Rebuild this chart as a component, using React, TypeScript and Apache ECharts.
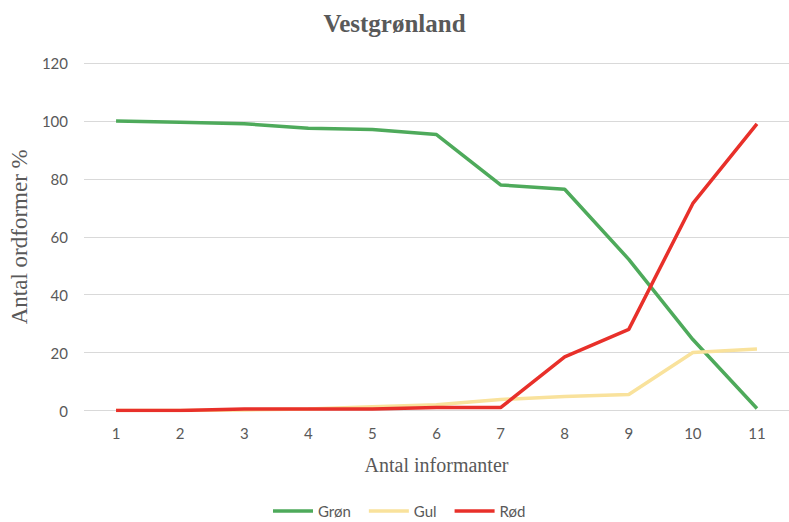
import React, { useEffect, useRef } from "react";
import * as echarts from "echarts";

const categories = ["1", "2", "3", "4", "5", "6", "7", "8", "9", "10", "11"];
const gronValues = [100, 99.5, 99, 97.5, 97, 95.3, 77.9, 76.4, 52.2, 24.5, 0.7];
const gulValues = [0, 0, 0.2, 0.5, 1.3, 2, 3.8, 4.8, 5.5, 20, 21.2];
const rodValues = [0, 0, 0.5, 0.5, 0.5, 1, 1, 18.5, 28, 71.5, 99];

const TEXT = "#595959";

export default function App() {
  const ref = useRef<HTMLDivElement>(null);
  useEffect(() => {
    if (!ref.current) return;
    const chart = echarts.init(ref.current, undefined, { renderer: "svg" });
    const mk = (name: string, data: number[], color: string) => ({
      name,
      type: "line",
      data,
      symbol: "none",
      lineStyle: { color, width: 3.5 },
      itemStyle: { color },
    });
    chart.setOption({
      animation: false,
      backgroundColor: "#ffffff",
      title: {
        text: "Vestgrønland",
        left: "center",
        top: 6,
        textStyle: {
          fontFamily: "Liberation Serif",
          fontSize: 25,
          fontWeight: "bold",
          color: TEXT,
        },
      },
      grid: { left: 81, width: 712, top: 63, height: 347.5, containLabel: false },
      legend: {
        bottom: 0,
        left: 268,
        icon: "rect",
        itemWidth: 40,
        itemHeight: 3.5,
        itemGap: 18,
        padding: [0, 5, 2, 5],
        textStyle: { fontFamily: "Lato", fontSize: 15, color: TEXT, lineHeight: 18 },
        data: ["Grøn", "Gul", "Rød"],
      },
      xAxis: {
        type: "category",
        data: categories,
        boundaryGap: true,
        name: "Antal informanter",
        nameLocation: "middle",
        nameGap: 44,
        nameTextStyle: { fontFamily: "Liberation Serif", fontSize: 20, color: TEXT },
        axisLine: { show: false },
        axisTick: { show: false },
        axisLabel: { fontFamily: "Lato", fontSize: 15, color: TEXT, margin: 15 },
      },
      yAxis: {
        type: "value",
        min: 0,
        max: 120,
        interval: 20,
        name: "Antal ordformer %",
        nameLocation: "middle",
        nameGap: 52,
        nameTextStyle: { fontFamily: "Liberation Serif", fontSize: 23, color: TEXT },
        axisLine: { show: false },
        axisTick: { show: false },
        axisLabel: { fontFamily: "Lato", fontSize: 15, color: TEXT, margin: 16 },
        splitLine: { lineStyle: { color: "#d9d9d9", width: 1 } },
      },
      series: [
        mk("Grøn", gronValues, "#4EAA5B"),
        mk("Gul", gulValues, "#F9E29C"),
        mk("Rød", rodValues, "#E8302A"),
      ],
    });
    return () => chart.dispose();
  }, []);
  return <div ref={ref} style={{ width: 789, height: 522, position: "absolute", left: 0, top: 0 }} />;
}
